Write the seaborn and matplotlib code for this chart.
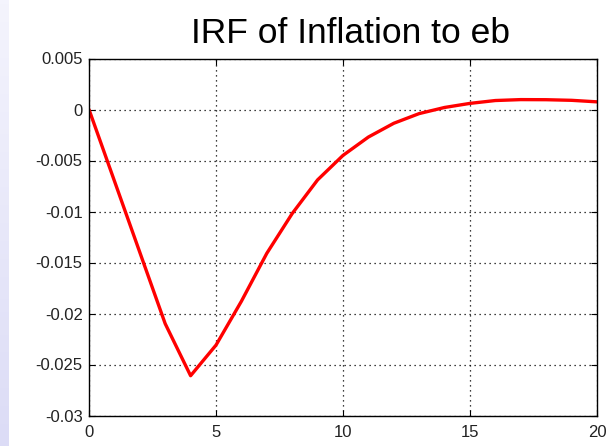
import numpy as np
import pandas as pd
import matplotlib
matplotlib.use("Agg")
import matplotlib.pyplot as plt
import seaborn as sns
from matplotlib.colors import LinearSegmentedColormap

periods = list(range(21))
inflation_irf = [0.0, -0.0070, -0.0140, -0.0210, -0.0261, -0.0231, -0.0188,
                 -0.0141, -0.0102, -0.0069, -0.0045, -0.0027, -0.00135,
                 -0.0004, 0.0002, 0.0006, 0.00088, 0.00097, 0.00096,
                 0.0009, 0.00075]
x_ticks = [0, 5, 10, 15, 20]
y_ticks = [0.005, 0, -0.005, -0.01, -0.015, -0.02, -0.025, -0.03]
y_labels = ["0.005", "0", "-0.005", "-0.01", "-0.015", "-0.02", "-0.025", "-0.03"]
title = "IRF of Inflation to eb"

df = pd.DataFrame({"period": periods, "irf": inflation_irf})

sns.set_theme(style="white")
plt.rcParams["font.family"] = ["Liberation Sans", "DejaVu Sans"]

fig = plt.figure(figsize=(6.14, 4.46), dpi=100)
fig.patch.set_facecolor("white")
# left slide strip
grad = np.linspace(0, 1, 100).reshape(-1, 1)
strip_ax = fig.add_axes([0, 0, 9 / 614, 1])
cmap = LinearSegmentedColormap.from_list("s", ["#dcdcf6", "#f4f4fd"])
strip_ax.imshow(grad, aspect="auto", cmap=cmap, origin="lower")
strip_ax.axis("off")

ax = fig.add_axes([89 / 614, 1 - 415.5 / 446, (597 - 89) / 614, (415.5 - 58.5) / 446])
sns.lineplot(data=df, x="period", y="irf", ax=ax, color="#ff0000", linewidth=2.4)

ax.set_xlim(0, 20)
ax.set_ylim(-0.03, 0.005)
ax.set_xticks(x_ticks)
ax.set_xticklabels([str(t) for t in x_ticks])
ax.set_yticks(y_ticks)
ax.set_yticklabels(y_labels)
ax.set_xlabel("")
ax.set_ylabel("")
ax.grid(True, color="black", linestyle=(0, (1, 3)), linewidth=0.9)
ax.set_axisbelow(True)
for s in ax.spines.values():
    s.set_visible(True)
    s.set_color("black")
    s.set_linewidth(1.0)
ax.tick_params(direction="in", length=4, width=0.8, top=True, right=True,
               bottom=True, left=True, labelsize=12, colors="black")
ax.tick_params(axis="y", pad=4.5, labelcolor="#222222")
ax.tick_params(axis="x", pad=7, labelcolor="#222222")
ax.set_title(title, fontsize=25.5, pad=11, color="black", x=0.514)

fig.savefig("out.png", dpi=100)
